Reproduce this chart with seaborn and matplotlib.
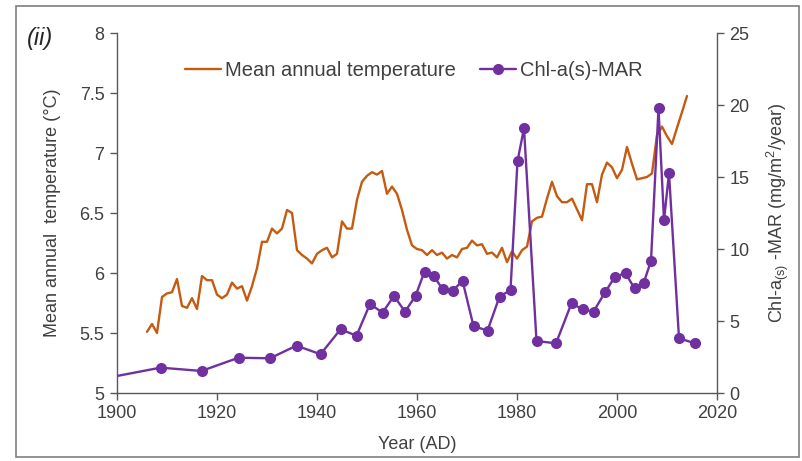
import numpy as np
import pandas as pd
import seaborn as sns
import matplotlib
matplotlib.use("Agg")
import matplotlib.pyplot as plt
from matplotlib.patches import Rectangle

# Mean annual air temperature, one value per year (°C)
temp_years = list(range(1906, 2015))
temp_values = [
    5.51, 5.575, 5.50, 5.80, 5.83, 5.84, 5.95, 5.725, 5.71, 5.79,
    5.70, 5.975, 5.94, 5.94, 5.82, 5.79, 5.82, 5.92, 5.87, 5.89,
    5.77, 5.89, 6.04, 6.26, 6.26, 6.37, 6.33, 6.37, 6.525, 6.50,
    6.19, 6.15, 6.12, 6.08, 6.16, 6.19, 6.21, 6.13, 6.16, 6.43,
    6.37, 6.37, 6.61, 6.76, 6.81, 6.84, 6.82, 6.85, 6.66, 6.72,
    6.66, 6.525, 6.36, 6.23, 6.20, 6.19, 6.15, 6.19, 6.15, 6.17,
    6.12, 6.15, 6.13, 6.20, 6.21, 6.27, 6.23, 6.24, 6.16, 6.17,
    6.13, 6.21, 6.09, 6.18, 6.12, 6.19, 6.22, 6.43, 6.46, 6.47,
    6.62, 6.76, 6.64, 6.59, 6.59, 6.62, 6.53, 6.44, 6.74, 6.74,
    6.59, 6.82, 6.92, 6.88, 6.79, 6.86, 7.05, 6.91, 6.78, 6.79,
    6.80, 6.83, 7.15, 7.22, 7.14, 7.075, 7.21, 7.34, 7.475,
]

# Sediment chlorophyll-a mass accumulation rate (mg/m2/year)
chl_years = [
    1895.0, 1908.7, 1916.9, 1924.3, 1930.6, 1935.9, 1940.7, 1944.7,
    1947.9, 1950.6, 1953.1, 1955.4, 1957.6, 1959.7, 1961.5, 1963.3,
    1965.1, 1967.1, 1969.1, 1971.3, 1974.1, 1976.5, 1978.7, 1980.1,
    1981.4, 1983.9, 1987.8, 1990.9, 1993.1, 1995.3, 1997.6, 1999.6,
    2001.7, 2003.5, 2005.3, 2006.8, 2008.3, 2009.4, 2010.4, 2012.4,
    2015.6,
]
chl_values = [
    0.85, 1.76, 1.53, 2.45, 2.41, 3.29, 2.69, 4.42,
    3.98, 6.18, 5.58, 6.74, 5.65, 6.74, 8.43, 8.15,
    7.22, 7.08, 7.80, 4.65, 4.33, 6.69, 7.15, 16.1,
    18.38, 3.61, 3.45, 6.23, 5.81, 5.65, 6.99, 8.08,
    8.31, 7.27, 7.61, 9.17, 19.77, 12.01, 15.26, 3.80,
    3.45,
]

temp_ticks = [5, 5.5, 6, 6.5, 7, 7.5, 8]
temp_tick_labels = ["5", "5.5", "6", "6.5", "7", "7.5", "8"]
chl_ticks = [0, 5, 10, 15, 20, 25]
year_ticks = [1900, 1920, 1940, 1960, 1980, 2000, 2020]

ORANGE = "#C55A11"
PURPLE = "#7030A0"
AXIS = "#595959"
TEXT = "#404040"
FS = 13

sns.set_theme(style="white")
plt.rcParams["font.family"] = ["Liberation Sans", "DejaVu Sans"]
plt.rcParams["mathtext.fontset"] = "custom"
plt.rcParams["mathtext.rm"] = "Liberation Sans"
plt.rcParams["mathtext.it"] = "Liberation Sans:italic"

temp_df = pd.DataFrame({"year": temp_years, "temp": temp_values})
chl_df = pd.DataFrame({"year": chl_years, "chl": chl_values})

fig = plt.figure(figsize=(8.03, 4.61), dpi=100)
ax = fig.add_axes([117 / 803, 1 - 393 / 461, 600 / 803, 360 / 461])
ax2 = ax.twinx()

sns.lineplot(data=temp_df, x="year", y="temp", ax=ax, color=ORANGE,
             linewidth=1.7, sort=False, label="Mean annual temperature",
             legend=False)
sns.lineplot(data=chl_df, x="year", y="chl", ax=ax2, color=PURPLE,
             linewidth=1.7, marker="o", markersize=8, markeredgewidth=0,
             sort=False, label="Chl-a(s)-MAR", legend=False)

ax.set_xlim(1900, 2020)
ax.set_ylim(5, 8)
ax2.set_ylim(0, 25)
ax.set_xticks(year_ticks)
ax.set_yticks(temp_ticks)
ax.set_yticklabels(temp_tick_labels)
ax2.set_yticks(chl_ticks)

for a in (ax, ax2):
    a.grid(False)
    a.spines["top"].set_visible(False)
    for s in ("left", "right", "bottom"):
        a.spines[s].set_color(AXIS)
        a.spines[s].set_linewidth(1.0)
    a.tick_params(axis="both", direction="out", length=5, width=1.0,
                  color=AXIS, labelcolor=TEXT, labelsize=FS, pad=4)
ax.spines["right"].set_visible(False)
ax2.spines["left"].set_visible(False)
ax2.spines["bottom"].set_visible(False)
ax.tick_params(axis="y", left=True, right=False)
ax.tick_params(axis="x", bottom=True)
ax2.tick_params(axis="y", right=True, left=False)

ax.set_xlabel("Year (AD)", fontsize=FS, color=TEXT, labelpad=10)
ax.set_ylabel("Mean annual  temperature (°C)", fontsize=FS, color=TEXT,
              labelpad=13)
ax2.set_ylabel(r"Chl-a$_{\mathregular{(s)}}$ -MAR (mg/m$^{\mathregular{2}}$/year)",
               fontsize=FS, color=TEXT, labelpad=11)

h1, l1 = ax.get_legend_handles_labels()
h2, l2 = ax2.get_legend_handles_labels()
ax2.legend(h1 + h2, l1 + l2, loc="center", bbox_to_anchor=(414 / 803, 1 - 71 / 461),
           bbox_transform=fig.transFigure, ncol=2, frameon=False,
           fontsize=14.5, handlelength=1.8, handletextpad=0.2,
           columnspacing=1.2, labelcolor=TEXT, numpoints=1)

fig.text(40 / 803, 1 - 38 / 461, "(ii)", fontsize=17, style="italic",
         color="#262626", ha="center", va="center")

fig.patches.append(Rectangle((16 / 803, 4 / 461), 783 / 803, 451 / 461,
                             transform=fig.transFigure, fill=False,
                             edgecolor="#7f7f7f", linewidth=1.2))

fig.savefig("out.png", dpi=100)
